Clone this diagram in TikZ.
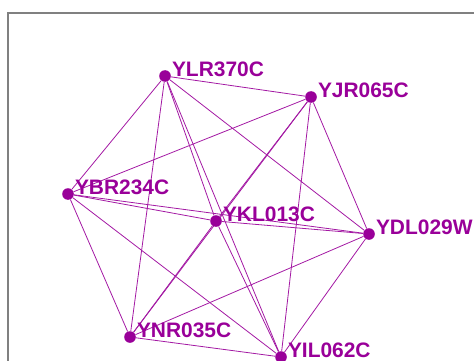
\documentclass[tikz,border=0pt]{standalone}
\usepackage{fontspec}
\setmainfont{Liberation Sans}
\usetikzlibrary{backgrounds}
\definecolor{netpurple}{RGB}{153,0,153}
\definecolor{framegray}{RGB}{128,128,128}

\begin{document}
\begin{tikzpicture}[x=0.75pt, y=-0.75pt, line cap=round,
                    dot/.style={circle, fill=netpurple, inner sep=0pt, minimum size=8.7pt},
                    gene/.style={anchor=base west, inner sep=0.5pt, text=netpurple,
                                 font=\fontsize{15.7}{18}\selectfont\bfseries},
                    link/.style={netpurple!90, line width=0.6pt}
                   ]
\useasboundingbox (0,0) rectangle (474,360);
\draw [framegray, line width=1.5pt] (8,370) -- (8,13.5) -- (485,13.5);

\node [dot, label={[gene]0:YLR370C}] (ylr) at (165,76) {};
\node [dot, label={[gene]0:YJR065C}] (yjr) at (311,97) {};
\node [dot, label={[gene]0:YBR234C}] (ybr) at (68,194) {};
\node [dot, label={[gene]0:YKL013C}] (ykl) at (216,221) {};
\node [dot, label={[gene]0:YDL029W}] (ydl) at (369,234) {};
\node [dot, label={[gene]0:YNR035C}] (ynr) at (130,337) {};
\node [dot, label={[gene]0:YIL062C}] (yil) at (281,357) {};

% every pair is linked
\begin{scope}[on background layer]
\foreach \a [count=\i] in {ylr,yjr,ybr,ykl,ydl,ynr,yil}{
    \foreach \b [count=\j] in {ylr,yjr,ybr,ykl,ydl,ynr,yil}{
        \ifnum\j>\i
            \draw [link] (\a) -- (\b);
        \fi
    }
}
\end{scope}
\end{tikzpicture}
\end{document}
